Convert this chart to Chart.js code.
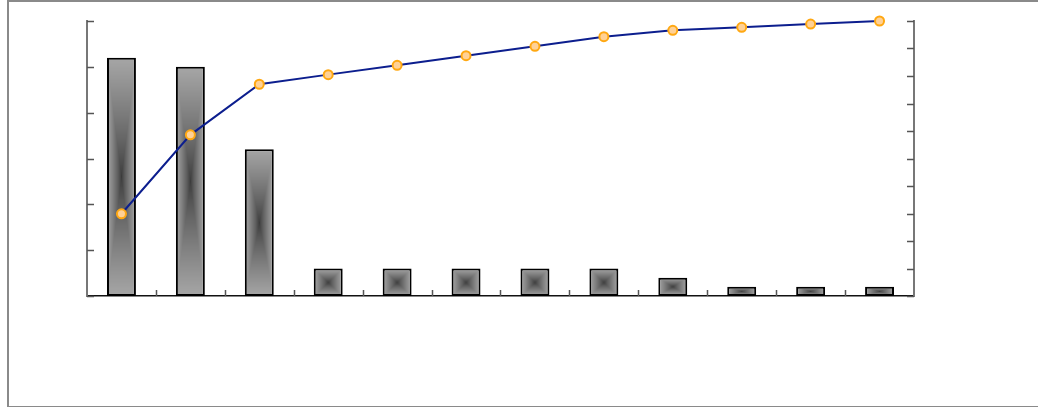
<!DOCTYPE html>
<html>
<head>
<meta charset="utf-8">
<script src="https://cdn.jsdelivr.net/npm/chart.js@4"></script>
<style>
  html, body { margin: 0; padding: 0; background: #fff; overflow: hidden; }
  #frame { position: absolute; left: 7px; top: 0; width: 1100px; height: 404px;
           border: 2px solid #8a8a8a; box-sizing: content-box; }
  #wrap { position: absolute; left: 0; top: 0; width: 1038px; height: 407px; }
</style>
</head>
<body>
<div id="frame"></div>
<div id="wrap"><canvas id="myChart"></canvas></div>
<script>
// categories (no labels shown in the picture)
var categories = ["1", "2", "3", "4", "5", "6", "7", "8", "9", "10", "11", "12"];
// bar values (left axis 0-60)
var counts = [52, 50, 32, 6, 6, 6, 6, 6, 4, 2, 2, 2];
// cumulative percent (right axis 0-100)
var cumPercent = [29.9, 58.6, 77.0, 80.5, 83.9, 87.4, 90.8, 94.3, 96.6, 97.7, 98.9, 100];
var leftTicks = [0, 10, 20, 30, 40, 50, 60];
var rightTicks = [0, 10, 20, 30, 40, 50, 60, 70, 80, 90, 100];

var BAR_PCT = 0.42;

// rectangular "from centre" gray gradient, one pattern per bar
var patternCache = {};
function barFill(ctx) {
  var chart = ctx.chart;
  if (!chart.chartArea) return "#999";
  var xs = chart.scales.x, ys = chart.scales.y;
  var cx = xs.getPixelForValue(ctx.dataIndex);
  var cw = xs.width / categories.length * BAR_PCT;
  var top = ys.getPixelForValue(counts[ctx.dataIndex]);
  var base = ys.getPixelForValue(0);
  var w = Math.max(1, Math.round(cw)), h = Math.max(1, Math.round(base - top));
  var left = cx - cw / 2;
  var key = ctx.dataIndex + ":" + w + "x" + h;
  var off = patternCache[key];
  if (!off) {
    off = document.createElement("canvas");
    off.width = w; off.height = h;
    var g = off.getContext("2d");
    var img = g.createImageData(w, h);
    for (var j = 0; j < h; j++) {
      for (var i = 0; i < w; i++) {
        var dx = Math.abs(i + 0.5 - w / 2) / (w / 2);
        var dy = Math.abs(j + 0.5 - h / 2) / (h / 2);
        var t = Math.pow(Math.max(dx, dy), 0.8);
        var c = Math.round(58 + (166 - 58) * t);
        var p = (j * w + i) * 4;
        img.data[p] = c; img.data[p + 1] = c; img.data[p + 2] = c; img.data[p + 3] = 255;
      }
    }
    g.putImageData(img, 0, 0);
    patternCache[key] = off;
  }
  var pat = chart.ctx.createPattern(off, "no-repeat");
  pat.setTransform(new DOMMatrix().translate(left, top));
  return pat;
}

// inward tick marks on all three axes
var innerTicks = {
  id: "innerTicks",
  afterDraw: function (chart) {
    var c = chart.ctx, a = chart.chartArea;
    var xs = chart.scales.x, ys = chart.scales.y, y1 = chart.scales.y1;
    c.save();
    c.lineWidth = 1.5;
    c.strokeStyle = "#555";
    c.beginPath();
    leftTicks.forEach(function (v) {
      var py = Math.round(ys.getPixelForValue(v)) + 0.5;
      c.moveTo(a.left, py); c.lineTo(a.left + 7, py);
    });
    rightTicks.forEach(function (v) {
      var py = Math.round(y1.getPixelForValue(v)) + 0.5;
      c.moveTo(a.right, py); c.lineTo(a.right - 7, py);
    });
    var step = xs.width / categories.length;
    for (var i = 1; i < categories.length; i++) {
      var px = Math.round(xs.getPixelForValue(i) - step / 2) + 0.5;
      c.moveTo(px, a.bottom); c.lineTo(px, a.bottom - 6);
    }
    c.stroke();
    c.restore();
  }
};

new Chart("myChart", {
  type: "bar",
  data: {
    labels: categories,
    datasets: [{
      type: "line",
      data: cumPercent,
      yAxisID: "y1",
      borderColor: "#0c1e8e",
      borderWidth: 2,
      pointRadius: 4.5,
      pointBorderWidth: 2,
      pointBorderColor: "#ffa812",
      pointBackgroundColor: "#ffd196",
      tension: 0,
      fill: false,
      clip: false,
      order: 0
    }, {
      type: "bar",
      data: counts,
      yAxisID: "y",
      backgroundColor: barFill,
      borderColor: "#000",
      borderWidth: 2,
      borderSkipped: false,
      barPercentage: BAR_PCT,
      categoryPercentage: 1,
      order: 1
    }]
  },
  options: {
    responsive: true,
    maintainAspectRatio: false,
    animation: false,
    layout: { padding: { left: 87, right: 124, top: 21, bottom: 111 } },
    plugins: { legend: { display: false }, tooltip: { enabled: false } },
    scales: {
      x: {
        offset: true,
        grid: { display: false, drawTicks: false },
        border: { display: true, color: "#111", width: 1.5 },
        ticks: { display: false }
      },
      y: {
        position: "left",
        min: 0, max: 60,
        ticks: { display: false, stepSize: 10 },
        grid: { display: false, drawTicks: false },
        border: { display: true, color: "#777", width: 2 }
      },
      y1: {
        position: "right",
        min: 0, max: 100,
        ticks: { display: false, stepSize: 10 },
        grid: { display: false, drawTicks: false },
        border: { display: true, color: "#777", width: 2 }
      }
    }
  },
  plugins: [innerTicks]
});
</script>
</body>
</html>
